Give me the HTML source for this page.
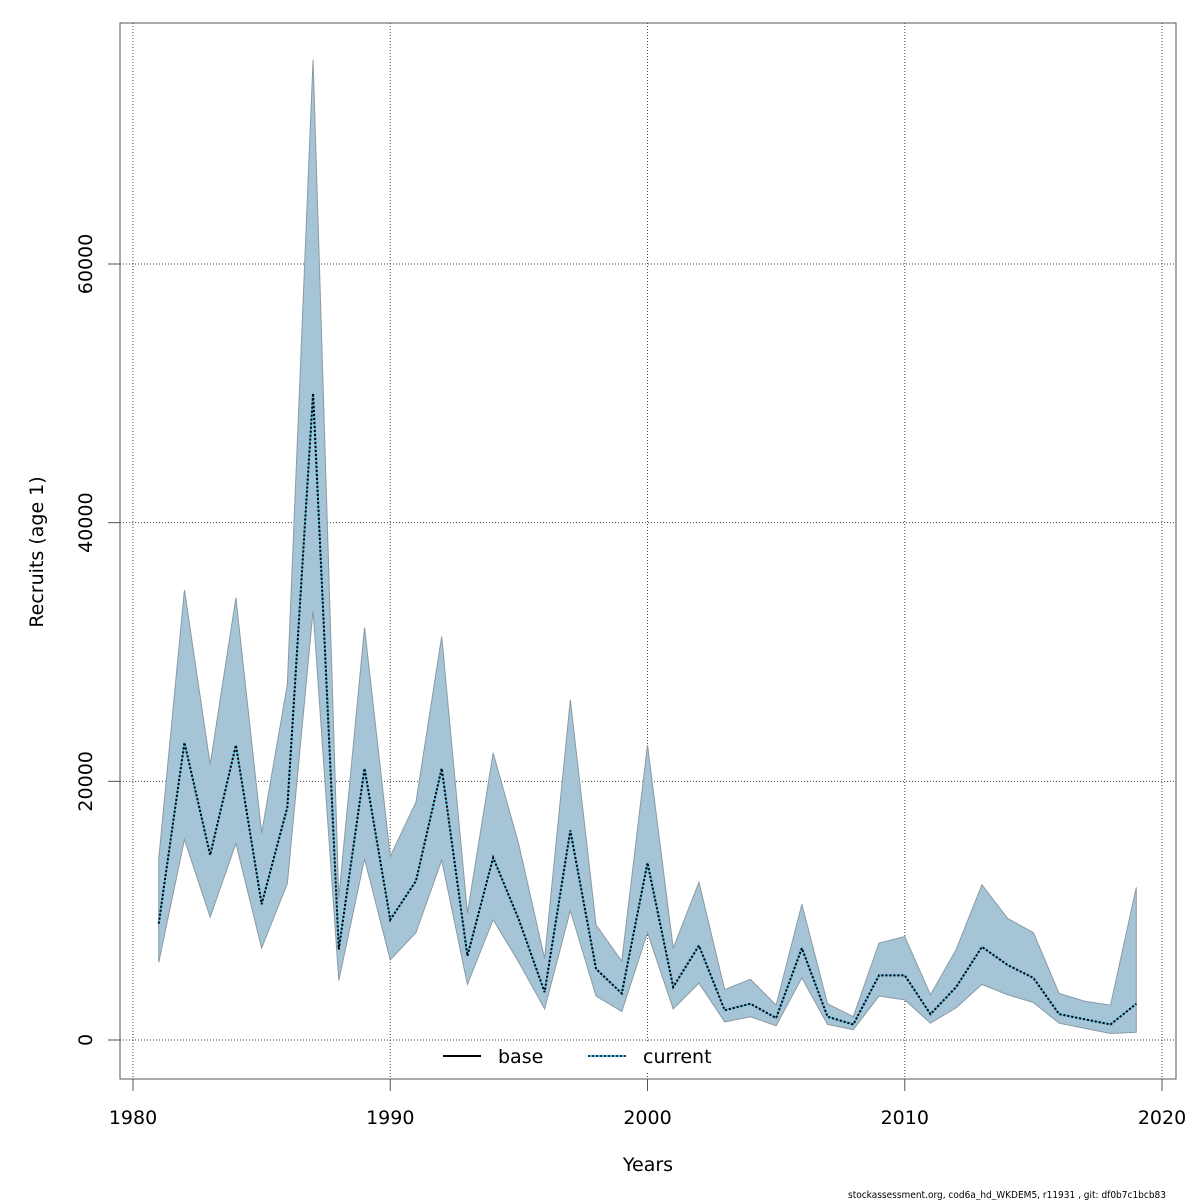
<!DOCTYPE html>
<html><head><meta charset="utf-8"><style>
html,body{margin:0;padding:0;background:#fff;}
svg{display:block;font-family:"DejaVu Sans","Liberation Sans",sans-serif;}
</style></head><body>
<svg id="chart" width="1200" height="1200" viewBox="0 0 1200 1200" xmlns="http://www.w3.org/2000/svg"></svg>
<script>
const years = [1981,1982,1983,1984,1985,1986,1987,1988,1989,1990,1991,1992,1993,1994,1995,1996,1997,1998,1999,2000,2001,2002,2003,2004,2005,2006,2007,2008,2009,2010,2011,2012,2013,2014,2015,2016,2017,2018,2019];
const recruits = [9000,23000,14300,22800,10500,18000,50000,7000,21000,9300,12300,21000,6500,14100,9300,3700,16200,5500,3600,13700,4100,7300,2300,2800,1700,7100,1800,1200,5000,5000,2000,4100,7200,5800,4800,2000,1600,1200,2800];
const lower = [6000,15500,9500,15200,7100,12100,33200,4600,14000,6200,8300,13900,4300,9300,6000,2400,10000,3400,2200,8300,2400,4400,1400,1800,1100,4800,1200,800,3400,3100,1300,2500,4300,3500,2900,1300,900,500,600];
const upper = [14000,34800,21300,34200,16000,27500,75800,11000,31900,14200,18400,31200,9800,22200,15100,6300,26300,8900,6100,22800,7100,12200,3900,4700,2700,10500,2800,1800,7500,8000,3500,7000,12000,9400,8300,3600,3000,2700,11800];
const xTicks = [1980,1990,2000,2010,2020];
const yTicks = [0,20000,40000,60000];

const NS="http://www.w3.org/2000/svg";
const svg=document.getElementById('chart');
const X=v=>133+(v-1980)*(1162-133)/40;
const Y=v=>1040-v*(1040-264)/60000;
function mk(tag,attrs,parent){const e=document.createElementNS(NS,tag);for(const k in attrs)e.setAttribute(k,attrs[k]);(parent||svg).appendChild(e);return e;}

xTicks.forEach(t=>{
  const g=mk('line',{x1:X(t),x2:X(t),y1:23,y2:1079,stroke:'#444','stroke-width':1,'stroke-dasharray':'1,2'});
  
  
});
yTicks.forEach(t=>{
  const g=mk('line',{x1:120,x2:1176,y1:Y(t),y2:Y(t),stroke:'#444','stroke-width':1,'stroke-dasharray':'1,2'});
  
  
});

let pts=years.map((y,i)=>X(y)+','+Y(upper[i]));
for(let i=years.length-1;i>=0;i--)pts.push(X(years[i])+','+Y(lower[i]));
const band=mk('polygon',{points:pts.join(' '),fill:'#a5c5d6',stroke:'#8a9aa4','stroke-width':1});



const lp=years.map((y,i)=>X(y)+','+Y(recruits[i])).join(' ');
const base=mk('polyline',{points:lp,fill:'none',stroke:'#5bb8e0','stroke-width':2});


const cur=mk('polyline',{points:lp,fill:'none',stroke:'#000','stroke-width':2,'stroke-dasharray':'2,2'});



const box=mk('rect',{x:120,y:23,width:1056,height:1056,fill:'none',stroke:'#555','stroke-width':1});



xTicks.forEach(t=>{
  const l=mk('line',{x1:X(t),x2:X(t),y1:1079,y2:1091,stroke:'#555'});
  
  
  const tx=mk('text',{x:X(t),y:1124,'text-anchor':'middle','font-size':19,fill:'#000'});
  tx.textContent=t;
  
  
});
yTicks.forEach(t=>{
  const l=mk('line',{x1:108,x2:120,y1:Y(t),y2:Y(t),stroke:'#555'});
  
  
  const tx=mk('text',{x:92,y:Y(t),'text-anchor':'middle','font-size':19,fill:'#000',transform:`rotate(-90 92 ${Y(t)})`});
  tx.textContent=t;
  
  
});
</script>
<svg style="position:absolute;left:0;top:0" width="1200" height="1200">
  <text x="648" y="1171" text-anchor="middle" font-size="19" font-family="DejaVu Sans, Liberation Sans, sans-serif">Years</text>
  <text x="43" y="552" text-anchor="middle" font-size="19" font-family="DejaVu Sans, Liberation Sans, sans-serif" transform="rotate(-90 43 552)">Recruits (age 1)</text>
  <g>
    <rect x="430" y="1042" width="300" height="30" fill="#fff"/>
    <line x1="443" x2="481" y1="1056" y2="1056" stroke="#000" stroke-width="2"/>
    <text x="498" y="1063" font-size="19" font-family="DejaVu Sans, Liberation Sans, sans-serif">base</text>
    <line x1="588" x2="626" y1="1056" y2="1056" stroke="#5bb8e0" stroke-width="2"/>
    <line x1="588" x2="626" y1="1056" y2="1056" stroke="#1a3a5a" stroke-width="2" stroke-dasharray="2,2"/>
    <text x="643" y="1063" font-size="19" font-family="DejaVu Sans, Liberation Sans, sans-serif">current</text>
  </g>
  <text x="848" y="1198" font-size="10" textLength="318" lengthAdjust="spacingAndGlyphs" font-family="DejaVu Sans, Liberation Sans, sans-serif">stockassessment.org, cod6a_hd_WKDEM5, r11931 , git: df0b7c1bcb83</text>
</svg>
</body></html>
